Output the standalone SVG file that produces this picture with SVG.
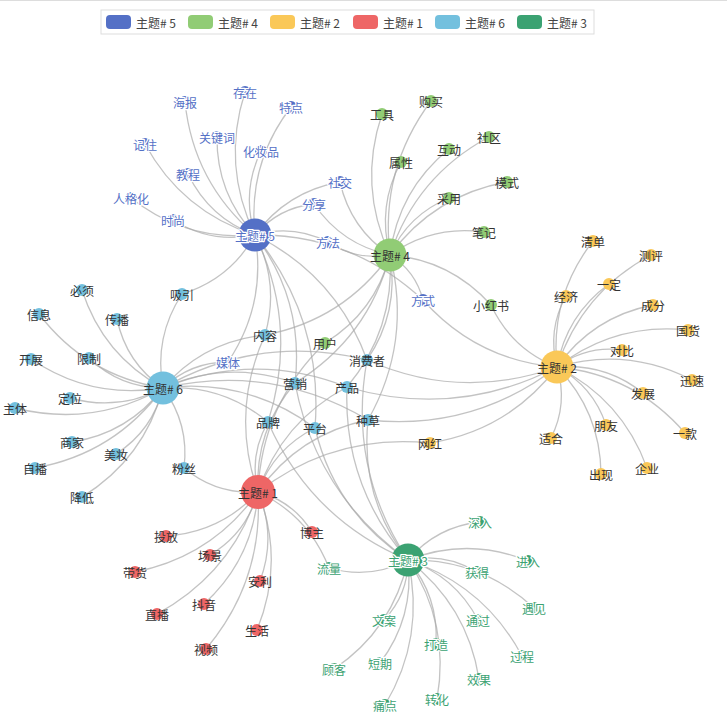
<svg xmlns="http://www.w3.org/2000/svg" width="727" height="727" viewBox="0 0 727 727">
<style>
.e{fill:none;stroke:#aaa;stroke-opacity:0.7;stroke-width:1.3}
text{font-family:"Noto Sans CJK SC","Microsoft YaHei",sans-serif;font-size:12px;text-anchor:middle;dominant-baseline:central;fill:#333}
circle{stroke:none}
.c5{fill:#5470c6}.c4{fill:#91cc75}.c2{fill:#fac858}.c1{fill:#ee6666}.c6{fill:#73c0de}.c3{fill:#3ba272}
text.b5{fill:#5470c6;stroke:#fff;stroke-width:2.5;paint-order:stroke;stroke-linejoin:round}
text.b3{fill:#3ba272;stroke:#fff;stroke-width:2.5;paint-order:stroke;stroke-linejoin:round}
.lg{text-anchor:start;fill:#444}
</style>
<rect x="0" y="0" width="727" height="727" fill="#fff"/>
<line x1="0" y1="0.5" x2="727" y2="0.5" stroke="#ddd"/>
<g id="legend">
<rect x="101" y="10" width="493" height="24" fill="#fff" stroke="#ddd"/>
<rect x="106" y="15" width="25" height="14" rx="4" class="c5"/><text x="136" y="22" class="lg">主题# 5</text>
<rect x="188" y="15" width="25" height="14" rx="4" class="c4"/><text x="218" y="22" class="lg">主题# 4</text>
<rect x="270" y="15" width="25" height="14" rx="4" class="c2"/><text x="300" y="22" class="lg">主题# 2</text>
<rect x="353" y="15" width="25" height="14" rx="4" class="c1"/><text x="383" y="22" class="lg">主题# 1</text>
<rect x="435" y="15" width="25" height="14" rx="4" class="c6"/><text x="465" y="22" class="lg">主题# 6</text>
<rect x="517" y="15" width="25" height="14" rx="4" class="c3"/><text x="547" y="22" class="lg">主题# 3</text>
</g>
<g id="edges">
<path class="e" d="M255 235Q193.4 182.5 185 102"/>
<path class="e" d="M255 235Q221.4 165.5 245 92"/>
<path class="e" d="M255 235Q247.4 163.8 291 107"/>
<path class="e" d="M255 235Q181.8 211.5 145 144"/>
<path class="e" d="M255 235Q216.4 193.6 217 137"/>
<path class="e" d="M255 235Q241.2 191.8 261 151"/>
<path class="e" d="M255 235Q209.3 217.9 188 174"/>
<path class="e" d="M255 235Q185.6 241.3 131 198"/>
<path class="e" d="M255 235Q211 243.9 173 220"/>
<path class="e" d="M255 235Q286.9 191.5 340 182"/>
<path class="e" d="M255 235Q278.3 207.7 314 204"/>
<path class="e" d="M255 235Q292.9 223.9 328 242"/>
<path class="e" d="M255 235Q352 233.9 423 300"/>
<path class="e" d="M255 235Q266.9 303.9 228 362"/>
<path class="e" d="M255 235Q230.3 279.1 182 294"/>
<path class="e" d="M255 235Q280 283 265 335"/>
<path class="e" d="M255 235Q304.6 301 295 383"/>
<path class="e" d="M255 235Q298.9 325.9 268 422"/>
<path class="e" d="M255 235Q323.6 319.5 315 428"/>
<path class="e" d="M255 235Q336 275.1 367 360"/>
<path class="e" d="M390 255Q357.8 186.1 382 114"/>
<path class="e" d="M390 255Q379.7 169.8 431 101"/>
<path class="e" d="M390 255Q376.9 206.3 401 162"/>
<path class="e" d="M390 255Q398.3 190.2 449 149"/>
<path class="e" d="M390 255Q415.9 176.2 489 137"/>
<path class="e" d="M390 255Q433.9 195.1 507 182"/>
<path class="e" d="M390 255Q408.1 214.7 449 198"/>
<path class="e" d="M390 255Q432.4 224.7 484 232"/>
<path class="e" d="M390 255Q450.5 259.8 491 305"/>
<path class="e" d="M390 255Q350.4 228.5 340 182"/>
<path class="e" d="M390 255Q341.8 244.7 314 204"/>
<path class="e" d="M390 255Q356.4 260.9 328 242"/>
<path class="e" d="M390 255Q415.5 270.9 423 300"/>
<path class="e" d="M390 255Q375.1 312 325 343"/>
<path class="e" d="M390 255Q343.5 320 265 335"/>
<path class="e" d="M390 255Q368.1 338 295 383"/>
<path class="e" d="M390 255Q394.9 329.6 347 387"/>
<path class="e" d="M390 255Q399.5 312.1 367 360"/>
<path class="e" d="M390 255Q412 341.9 368 420"/>
<path class="e" d="M557 367Q549.8 296.8 593 241"/>
<path class="e" d="M557 367Q581.6 292.2 651 255"/>
<path class="e" d="M557 367Q566.4 315.1 609 284"/>
<path class="e" d="M557 367Q547.3 329.7 566 296"/>
<path class="e" d="M557 367Q592.6 316.8 653 305"/>
<path class="e" d="M557 367Q615.1 322.3 688 330"/>
<path class="e" d="M557 367Q586.1 345.5 622 350"/>
<path class="e" d="M557 367Q627.1 346.5 692 380"/>
<path class="e" d="M557 367Q605.2 362.8 643 393"/>
<path class="e" d="M557 367Q634.2 374.4 685 433"/>
<path class="e" d="M557 367Q593.1 386.2 606 425"/>
<path class="e" d="M557 367Q568.2 403.7 551 438"/>
<path class="e" d="M557 367Q600.4 411.7 601 474"/>
<path class="e" d="M557 367Q622.2 399.5 647 468"/>
<path class="e" d="M557 367Q511.6 349.2 491 305"/>
<path class="e" d="M557 367Q476.6 360.3 423 300"/>
<path class="e" d="M557 367Q460.6 401.5 367 360"/>
<path class="e" d="M557 367Q456 419 347 387"/>
<path class="e" d="M557 367Q473.1 431.3 368 420"/>
<path class="e" d="M557 367Q508.7 430.4 430 443"/>
<path class="e" d="M163 388Q102.9 355.2 82 290"/>
<path class="e" d="M163 388Q86.2 375.8 39 314"/>
<path class="e" d="M163 388Q126.2 362.7 117 319"/>
<path class="e" d="M163 388Q153.7 337.2 182 294"/>
<path class="e" d="M163 388Q91.2 399.9 31 359"/>
<path class="e" d="M163 388Q120 387.8 89 358"/>
<path class="e" d="M163 388Q118.5 411.6 70 398"/>
<path class="e" d="M163 388Q93 427.6 15 408"/>
<path class="e" d="M163 388Q128.3 433.2 72 442"/>
<path class="e" d="M163 388Q152.7 430.4 116 454"/>
<path class="e" d="M163 388Q115 453.6 35 468"/>
<path class="e" d="M163 388Q144.3 458.7 82 497"/>
<path class="e" d="M163 388Q189.5 423.8 184 468"/>
<path class="e" d="M163 388Q190.3 362 228 362"/>
<path class="e" d="M163 388Q203.4 341.1 265 335"/>
<path class="e" d="M163 388Q259.4 333.2 367 360"/>
<path class="e" d="M163 388Q228 359.1 295 383"/>
<path class="e" d="M163 388Q254.8 350.7 347 387"/>
<path class="e" d="M163 388Q222.3 384 268 422"/>
<path class="e" d="M163 388Q247 377.6 315 428"/>
<path class="e" d="M163 388Q271.9 363 368 420"/>
<path class="e" d="M258 492Q220.8 532.4 166 536"/>
<path class="e" d="M258 492Q246.6 533.1 210 555"/>
<path class="e" d="M258 492Q212.5 556.6 135 572"/>
<path class="e" d="M258 492Q276.8 536.1 260 581"/>
<path class="e" d="M258 492Q253.4 558.8 204 604"/>
<path class="e" d="M258 492Q231.9 573.2 157 614"/>
<path class="e" d="M258 492Q285.1 561.2 257 630"/>
<path class="e" d="M258 492Q263.4 580.9 206 649"/>
<path class="e" d="M258 492Q293 501.2 312 532"/>
<path class="e" d="M258 492Q308.7 515.8 329 568"/>
<path class="e" d="M258 492Q216.2 494.8 184 468"/>
<path class="e" d="M258 492Q249 455 268 422"/>
<path class="e" d="M258 492Q254.7 430.1 295 383"/>
<path class="e" d="M258 492Q261.7 404.1 325 343"/>
<path class="e" d="M258 492Q281.5 421.7 347 387"/>
<path class="e" d="M258 492Q273.7 448.6 315 428"/>
<path class="e" d="M258 492Q298.6 434 368 420"/>
<path class="e" d="M258 492Q334.2 433.1 430 443"/>
<path class="e" d="M258 492Q230.1 412.1 265 335"/>
<path class="e" d="M408 560Q436.4 526.6 480 522"/>
<path class="e" d="M408 560Q370.1 579.8 329 568"/>
<path class="e" d="M408 560Q468.2 536.5 528 561"/>
<path class="e" d="M408 560Q444.9 552.2 477 572"/>
<path class="e" d="M408 560Q480.6 558.8 534 608"/>
<path class="e" d="M408 560Q408 594.8 384 620"/>
<path class="e" d="M408 560Q455 576 478 620"/>
<path class="e" d="M408 560Q438.8 596.4 436 644"/>
<path class="e" d="M408 560Q484.2 585.2 522 656"/>
<path class="e" d="M408 560Q392.8 629.3 334 669"/>
<path class="e" d="M408 560Q414.6 617.1 380 663"/>
<path class="e" d="M408 560Q467.3 605.3 479 679"/>
<path class="e" d="M408 560Q425.5 637.1 385 705"/>
<path class="e" d="M408 560Q450.3 623.7 437 699"/>
<path class="e" d="M408 560Q310.4 519 268 422"/>
<path class="e" d="M408 560Q335.1 512.6 315 428"/>
<path class="e" d="M408 560Q360 498 368 420"/>
<path class="e" d="M408 560Q316.1 494.1 295 383"/>
<path class="e" d="M408 560Q347.5 468.2 367 360"/>
<path class="e" d="M408 560Q342.9 485.7 347 387"/>
</g>
<g id="n-t5w1"><circle cx="185" cy="102" r="6" class="c5"/><text x="185" y="102" class="b5">海报</text></g>
<g id="n-t5w2"><circle cx="245" cy="92" r="6" class="c5"/><text x="245" y="92" class="b5">存在</text></g>
<g id="n-t5w3"><circle cx="291" cy="107" r="6" class="c5"/><text x="291" y="107" class="b5">特点</text></g>
<g id="n-t5w4"><circle cx="145" cy="144" r="6" class="c5"/><text x="145" y="144" class="b5">记住</text></g>
<g id="n-t5w5"><circle cx="217" cy="137" r="6" class="c5"/><text x="217" y="137" class="b5">关键词</text></g>
<g id="n-t5w6"><circle cx="261" cy="151" r="6" class="c5"/><text x="261" y="151" class="b5">化妆品</text></g>
<g id="n-t5w7"><circle cx="188" cy="174" r="6" class="c5"/><text x="188" y="174" class="b5">教程</text></g>
<g id="n-t5w8"><circle cx="131" cy="198" r="6" class="c5"/><text x="131" y="198" class="b5">人格化</text></g>
<g id="n-t5w9"><circle cx="173" cy="220" r="6" class="c5"/><text x="173" y="220" class="b5">时尚</text></g>
<g id="n-t5w10"><circle cx="340" cy="182" r="6" class="c5"/><text x="340" y="182" class="b5">社交</text></g>
<g id="n-t5w11"><circle cx="314" cy="204" r="6" class="c5"/><text x="314" y="204" class="b5">分享</text></g>
<g id="n-t5w12"><circle cx="328" cy="242" r="6" class="c5"/><text x="328" y="242" class="b5">方法</text></g>
<g id="n-t5w13"><circle cx="423" cy="300" r="6" class="c5"/><text x="423" y="300" class="b5">方式</text></g>
<g id="n-t5w14"><circle cx="228" cy="362" r="6" class="c5"/><text x="228" y="362" class="b5">媒体</text></g>
<g id="n-t4w1"><circle cx="382" cy="114" r="6" class="c4"/><text x="382" y="114">工具</text></g>
<g id="n-t4w2"><circle cx="431" cy="101" r="6" class="c4"/><text x="431" y="101">购买</text></g>
<g id="n-t4w3"><circle cx="401" cy="162" r="6" class="c4"/><text x="401" y="162">属性</text></g>
<g id="n-t4w4"><circle cx="449" cy="149" r="6" class="c4"/><text x="449" y="149">互动</text></g>
<g id="n-t4w5"><circle cx="489" cy="137" r="6" class="c4"/><text x="489" y="137">社区</text></g>
<g id="n-t4w6"><circle cx="507" cy="182" r="6" class="c4"/><text x="507" y="182">模式</text></g>
<g id="n-t4w7"><circle cx="449" cy="198" r="6" class="c4"/><text x="449" y="198">采用</text></g>
<g id="n-t4w8"><circle cx="484" cy="232" r="6" class="c4"/><text x="484" y="232">笔记</text></g>
<g id="n-t4w9"><circle cx="491" cy="305" r="6" class="c4"/><text x="491" y="305">小红书</text></g>
<g id="n-t4w10"><circle cx="325" cy="343" r="6" class="c4"/><text x="325" y="343">用户</text></g>
<g id="n-t2w1"><circle cx="593" cy="241" r="6" class="c2"/><text x="593" y="241">清单</text></g>
<g id="n-t2w2"><circle cx="651" cy="255" r="6" class="c2"/><text x="651" y="255">测评</text></g>
<g id="n-t2w3"><circle cx="609" cy="284" r="6" class="c2"/><text x="609" y="284">一定</text></g>
<g id="n-t2w4"><circle cx="566" cy="296" r="6" class="c2"/><text x="566" y="296">经济</text></g>
<g id="n-t2w5"><circle cx="653" cy="305" r="6" class="c2"/><text x="653" y="305">成分</text></g>
<g id="n-t2w6"><circle cx="688" cy="330" r="6" class="c2"/><text x="688" y="330">国货</text></g>
<g id="n-t2w7"><circle cx="622" cy="350" r="6" class="c2"/><text x="622" y="350">对比</text></g>
<g id="n-t2w8"><circle cx="692" cy="380" r="6" class="c2"/><text x="692" y="380">迅速</text></g>
<g id="n-t2w9"><circle cx="643" cy="393" r="6" class="c2"/><text x="643" y="393">发展</text></g>
<g id="n-t2w10"><circle cx="685" cy="433" r="6" class="c2"/><text x="685" y="433">一款</text></g>
<g id="n-t2w11"><circle cx="606" cy="425" r="6" class="c2"/><text x="606" y="425">朋友</text></g>
<g id="n-t2w12"><circle cx="551" cy="438" r="6" class="c2"/><text x="551" y="438">适合</text></g>
<g id="n-t2w13"><circle cx="601" cy="474" r="6" class="c2"/><text x="601" y="474">出现</text></g>
<g id="n-t2w14"><circle cx="647" cy="468" r="6" class="c2"/><text x="647" y="468">企业</text></g>
<g id="n-t2w15"><circle cx="430" cy="443" r="6" class="c2"/><text x="430" y="443">网红</text></g>
<g id="n-t6w1"><circle cx="82" cy="290" r="6" class="c6"/><text x="82" y="290">必须</text></g>
<g id="n-t6w2"><circle cx="39" cy="314" r="6" class="c6"/><text x="39" y="314">信息</text></g>
<g id="n-t6w3"><circle cx="117" cy="319" r="6" class="c6"/><text x="117" y="319">传播</text></g>
<g id="n-t6w4"><circle cx="182" cy="294" r="6" class="c6"/><text x="182" y="294">吸引</text></g>
<g id="n-t6w5"><circle cx="31" cy="359" r="6" class="c6"/><text x="31" y="359">开展</text></g>
<g id="n-t6w6"><circle cx="89" cy="358" r="6" class="c6"/><text x="89" y="358">限制</text></g>
<g id="n-t6w7"><circle cx="70" cy="398" r="6" class="c6"/><text x="70" y="398">定位</text></g>
<g id="n-t6w8"><circle cx="15" cy="408" r="6" class="c6"/><text x="15" y="408">主体</text></g>
<g id="n-t6w9"><circle cx="72" cy="442" r="6" class="c6"/><text x="72" y="442">商家</text></g>
<g id="n-t6w10"><circle cx="116" cy="454" r="6" class="c6"/><text x="116" y="454">美妆</text></g>
<g id="n-t6w11"><circle cx="35" cy="468" r="6" class="c6"/><text x="35" y="468">自播</text></g>
<g id="n-t6w12"><circle cx="82" cy="497" r="6" class="c6"/><text x="82" y="497">降低</text></g>
<g id="n-t6w13"><circle cx="184" cy="468" r="6" class="c6"/><text x="184" y="468">粉丝</text></g>
<g id="n-t6w14"><circle cx="265" cy="335" r="6" class="c6"/><text x="265" y="335">内容</text></g>
<g id="n-t6w15"><circle cx="295" cy="383" r="6" class="c6"/><text x="295" y="383">营销</text></g>
<g id="n-t6w16"><circle cx="347" cy="387" r="6" class="c6"/><text x="347" y="387">产品</text></g>
<g id="n-t6w17"><circle cx="268" cy="422" r="6" class="c6"/><text x="268" y="422">品牌</text></g>
<g id="n-t6w18"><circle cx="315" cy="428" r="6" class="c6"/><text x="315" y="428">平台</text></g>
<g id="n-t6w19"><circle cx="368" cy="420" r="6" class="c6"/><text x="368" y="420">种草</text></g>
<g id="n-t6w20"><circle cx="367" cy="360" r="6" class="c6"/><text x="367" y="360">消费者</text></g>
<g id="n-t1w1"><circle cx="166" cy="536" r="6" class="c1"/><text x="166" y="536">投放</text></g>
<g id="n-t1w2"><circle cx="210" cy="555" r="6" class="c1"/><text x="210" y="555">场景</text></g>
<g id="n-t1w3"><circle cx="135" cy="572" r="6" class="c1"/><text x="135" y="572">带货</text></g>
<g id="n-t1w4"><circle cx="260" cy="581" r="6" class="c1"/><text x="260" y="581">安利</text></g>
<g id="n-t1w5"><circle cx="204" cy="604" r="6" class="c1"/><text x="204" y="604">抖音</text></g>
<g id="n-t1w6"><circle cx="157" cy="614" r="6" class="c1"/><text x="157" y="614">直播</text></g>
<g id="n-t1w7"><circle cx="257" cy="630" r="6" class="c1"/><text x="257" y="630">生活</text></g>
<g id="n-t1w8"><circle cx="206" cy="649" r="6" class="c1"/><text x="206" y="649">视频</text></g>
<g id="n-t1w9"><circle cx="312" cy="532" r="6" class="c1"/><text x="312" y="532">博主</text></g>
<g id="n-t3w1"><circle cx="480" cy="522" r="6" class="c3"/><text x="480" y="522" class="b3">深入</text></g>
<g id="n-t3w2"><circle cx="329" cy="568" r="6" class="c3"/><text x="329" y="568" class="b3">流量</text></g>
<g id="n-t3w3"><circle cx="528" cy="561" r="6" class="c3"/><text x="528" y="561" class="b3">进入</text></g>
<g id="n-t3w4"><circle cx="477" cy="572" r="6" class="c3"/><text x="477" y="572" class="b3">获得</text></g>
<g id="n-t3w5"><circle cx="534" cy="608" r="6" class="c3"/><text x="534" y="608" class="b3">遇见</text></g>
<g id="n-t3w6"><circle cx="384" cy="620" r="6" class="c3"/><text x="384" y="620" class="b3">文案</text></g>
<g id="n-t3w7"><circle cx="478" cy="620" r="6" class="c3"/><text x="478" y="620" class="b3">通过</text></g>
<g id="n-t3w8"><circle cx="436" cy="644" r="6" class="c3"/><text x="436" y="644" class="b3">打造</text></g>
<g id="n-t3w9"><circle cx="522" cy="656" r="6" class="c3"/><text x="522" y="656" class="b3">过程</text></g>
<g id="n-t3w10"><circle cx="334" cy="669" r="6" class="c3"/><text x="334" y="669" class="b3">顾客</text></g>
<g id="n-t3w11"><circle cx="380" cy="663" r="6" class="c3"/><text x="380" y="663" class="b3">短期</text></g>
<g id="n-t3w12"><circle cx="479" cy="679" r="6" class="c3"/><text x="479" y="679" class="b3">效果</text></g>
<g id="n-t3w13"><circle cx="385" cy="705" r="6" class="c3"/><text x="385" y="705" class="b3">痛点</text></g>
<g id="n-t3w14"><circle cx="437" cy="699" r="6" class="c3"/><text x="437" y="699" class="b3">转化</text></g>
<g id="n-topic5"><circle cx="255" cy="235" r="16.5" class="c5"/><text x="255" y="235" class="b5">主题# 5</text></g>
<g id="n-topic4"><circle cx="390" cy="255" r="16.5" class="c4"/><text x="390" y="255">主题# 4</text></g>
<g id="n-topic2"><circle cx="557" cy="367" r="16.5" class="c2"/><text x="557" y="367">主题# 2</text></g>
<g id="n-topic6"><circle cx="163" cy="388" r="16.5" class="c6"/><text x="163" y="388">主题# 6</text></g>
<g id="n-topic1"><circle cx="258" cy="492" r="17" class="c1"/><text x="258" y="492">主题# 1</text></g>
<g id="n-topic3"><circle cx="408" cy="560" r="16.5" class="c3"/><text x="408" y="560" class="b3">主题# 3</text></g>
</svg>
